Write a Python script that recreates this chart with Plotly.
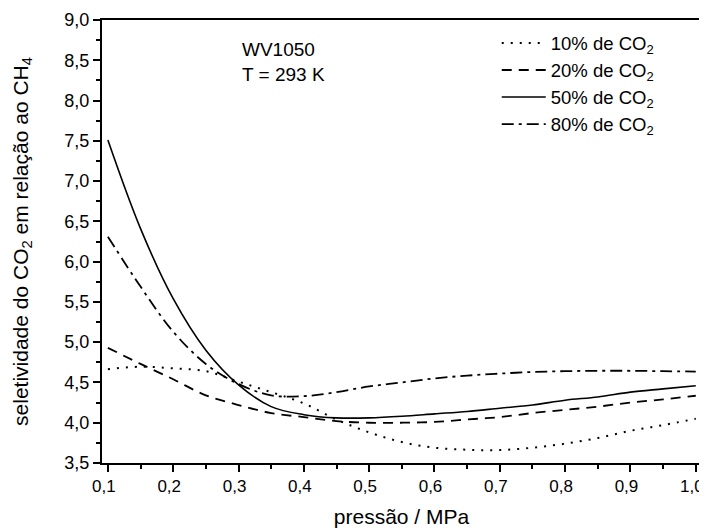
import plotly.graph_objects as go

pressure = [0.10, 0.15, 0.20, 0.25, 0.30, 0.35, 0.40, 0.45, 0.50, 0.55,
            0.60, 0.65, 0.70, 0.75, 0.80, 0.85, 0.90, 0.95, 1.00]

sel_10 = [4.665, 4.695, 4.675, 4.64, 4.51, 4.38, 4.24, 4.04, 3.88, 3.76,
          3.69, 3.665, 3.66, 3.69, 3.74, 3.81, 3.90, 3.97, 4.05]
sel_20 = [4.93, 4.73, 4.54, 4.34, 4.22, 4.12, 4.07, 4.02, 4.00, 4.00,
          4.01, 4.04, 4.07, 4.12, 4.16, 4.20, 4.25, 4.29, 4.335]
sel_50 = [7.51, 6.41, 5.54, 4.90, 4.47, 4.20, 4.10, 4.06, 4.06, 4.08,
          4.11, 4.14, 4.18, 4.22, 4.28, 4.32, 4.38, 4.42, 4.46]
sel_80 = [6.31, 5.69, 5.13, 4.73, 4.48, 4.34, 4.33, 4.38, 4.45, 4.50,
          4.55, 4.585, 4.61, 4.63, 4.64, 4.645, 4.645, 4.64, 4.635]

series_names = ["10% de CO<sub>2</sub>", "20% de CO<sub>2</sub>",
                "50% de CO<sub>2</sub>", "80% de CO<sub>2</sub>"]
series_values = [sel_10, sel_20, sel_50, sel_80]
dashes = ["2px,7px", "10px,7px", "solid", "12px,5px,3px,5px"]
widths = [2, 1.8, 1.6, 1.8]

FONT = "Liberation Sans, Arial, sans-serif"

fig = go.Figure()
for name, vals, dash, w in zip(series_names, series_values, dashes, widths):
    fig.add_trace(go.Scatter(
        x=pressure, y=vals, mode="lines", name=name,
        line=dict(color="black", width=w, dash=dash, shape="spline", smoothing=1.0),
    ))

# the page body has an 8px default margin, so the figure is sized to fit the window
fig.update_layout(
    width=699, height=522,
    margin=dict(l=94, r=6, t=12, b=67, autoexpand=False),
    paper_bgcolor="white", plot_bgcolor="white",
    separators=",.",
    font=dict(family=FONT, size=19, color="black"),
    showlegend=True,
    legend=dict(
        x=0.659, y=0.99, xanchor="left", yanchor="top",
        bgcolor="rgba(0,0,0,0)", borderwidth=0,
        font=dict(family=FONT, size=18.5, color="black"),
        itemwidth=44, tracegroupgap=0,
    ),
    xaxis=dict(
        range=[0.091, 1.008], tick0=0.1, dtick=0.1, tickformat=".1f",
        ticks="outside", ticklen=7, tickwidth=1.5, tickcolor="black",
        minor=dict(dtick=0.05, ticks="outside", ticklen=4, tickwidth=1.5, tickcolor="black"),
        showline=True, linecolor="black", linewidth=2, mirror=True,
        showgrid=False, zeroline=False, automargin=False,
        ticklabeloverflow="allow", ticklabelshift=-4,
        tickfont=dict(family=FONT, size=17),
        title=dict(text="pressão / MPa", font=dict(family=FONT, size=21), standoff=14),
    ),
    yaxis=dict(
        range=[3.5, 9.0], tick0=3.5, dtick=0.5, tickformat=".1f",
        ticks="outside", ticklen=7, tickwidth=1.5, tickcolor="black",
        minor=dict(dtick=0.25, ticks="outside", ticklen=4, tickwidth=1.5, tickcolor="black"),
        showline=True, linecolor="black", linewidth=2, mirror=True,
        showgrid=False, zeroline=False, automargin=False,
        ticklabeloverflow="allow",
        tickfont=dict(family=FONT, size=18),
        title=dict(text="seletividade do CO<sub>2</sub> em relação ao CH<sub>4</sub>",
                   font=dict(family=FONT, size=21), standoff=30),
    ),
    annotations=[dict(
        text="WV1050<br>T = 293 K", xref="paper", yref="paper",
        x=0.231, y=0.962, xanchor="left", yanchor="top", align="left",
        showarrow=False, font=dict(family=FONT, size=19, color="black"),
    )],
)

fig.write_html("out.html")
